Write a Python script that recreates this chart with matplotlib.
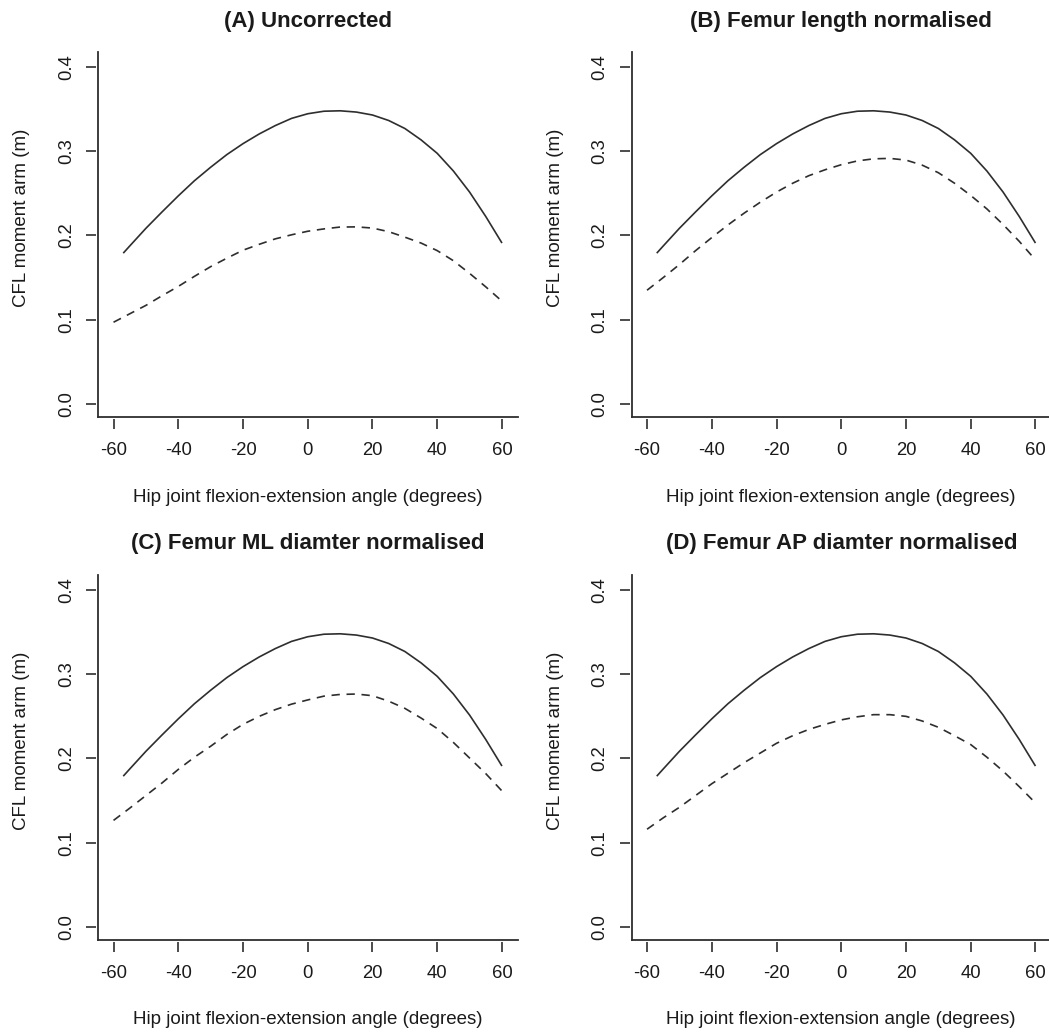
import matplotlib
matplotlib.use("Agg")
import matplotlib.pyplot as plt

plt.rcParams['font.family'] = ['Liberation Sans', 'DejaVu Sans']

# ---- data ----
solid_angle = [-57, -55, -50, -45, -40, -35, -30, -25, -20, -15, -10, -5, 0,
               5, 10, 15, 20, 25, 30, 35, 40, 45, 50, 55, 60]
solid_arm = [0.179, 0.1875, 0.2085, 0.228, 0.247, 0.265, 0.281, 0.296, 0.309,
             0.3205, 0.3305, 0.339, 0.3445, 0.3475, 0.348, 0.3465, 0.343, 0.3365,
             0.327, 0.3135, 0.2975, 0.2765, 0.2515, 0.2225, 0.191]

dashed_angle = [-60, -55, -50, -45, -40, -35, -30, -25, -20, -15, -10, -5, 0,
                5, 10, 15, 20, 25, 30, 35, 40, 45, 50, 55, 60]
dashed_A = [0.097, 0.107, 0.117, 0.1285, 0.1395, 0.1515, 0.163, 0.173, 0.1825,
            0.1895, 0.196, 0.2008, 0.205, 0.2078, 0.210, 0.2102, 0.2088, 0.2045,
            0.198, 0.191, 0.182, 0.170, 0.155, 0.139, 0.122]
dashed_B = [0.135, 0.150, 0.1655, 0.182, 0.1975, 0.2125, 0.2265, 0.2395, 0.2515,
            0.262, 0.271, 0.278, 0.284, 0.2885, 0.291, 0.2915, 0.2895, 0.2835,
            0.2745, 0.262, 0.2475, 0.2315, 0.213, 0.193, 0.171]
dashed_C = [0.1265, 0.141, 0.156, 0.171, 0.187, 0.2015, 0.2145, 0.2285, 0.2405,
            0.250, 0.258, 0.2645, 0.2695, 0.274, 0.276, 0.2765, 0.2745, 0.268,
            0.2595, 0.248, 0.2355, 0.219, 0.2005, 0.182, 0.1614]
dashed_D = [0.116, 0.1295, 0.142, 0.156, 0.170, 0.1825, 0.195, 0.2065, 0.218,
            0.227, 0.2345, 0.2405, 0.2458, 0.2495, 0.252, 0.252, 0.250, 0.2445,
            0.237, 0.227, 0.2165, 0.2015, 0.185, 0.1665, 0.1472]

titles = ["(A) Uncorrected", "(B) Femur length normalised",
          "(C) Femur ML diamter normalised", "(D) Femur AP diamter normalised"]
dashed_series = [dashed_A, dashed_B, dashed_C, dashed_D]

x_ticks = [-60, -40, -20, 0, 20, 40, 60]
y_ticks = [0.0, 0.1, 0.2, 0.3, 0.4]
y_tick_labels = ["0.0", "0.1", "0.2", "0.3", "0.4"]
x_label = "Hip joint flexion-extension angle (degrees)"
y_label = "CFL moment arm (m)"

# ---- layout ----
FW, FH = 1049, 1034
fig = plt.figure(figsize=(FW / 100, FH / 100), dpi=100)
fig.patch.set_facecolor("white")

W, H = 419.5, 365
origins = [(98, 52), (631.5, 52), (98, 575), (631.5, 575)]

line_col = "#2e2e2e"
text_col = "#1a1a1a"
lw = 1.2

for (l, t), title, dashed in zip(origins, titles, dashed_series):
    ax = fig.add_axes([l / FW, (FH - t - H) / FH, W / FW, H / FH])
    ax.plot(solid_angle, solid_arm, color=line_col, lw=lw, solid_capstyle="butt",
            solid_joinstyle="round")
    ax.plot(dashed_angle, dashed, color=line_col, lw=lw, linestyle=(0, (5, 4)))
    ax.set_xlim(-64.8, 64.8)
    ax.set_ylim(-0.0155, 0.4178)
    for s in ("top", "right"):
        ax.spines[s].set_visible(False)
    for s in ("left", "bottom"):
        ax.spines[s].set_linewidth(1.3)
        ax.spines[s].set_color(line_col)
    ax.tick_params(bottom=False, left=False, labelbottom=False, labelleft=False)

    sx = ax.secondary_xaxis(-0.006)
    sx.spines["bottom"].set_visible(False)
    sx.set_xticks(x_ticks)
    sx.set_xticklabels([str(v) for v in x_ticks])
    sx.tick_params(length=7.5, width=1.2, color=line_col, labelsize=13.3,
                   labelcolor=text_col, pad=9)

    sy = ax.secondary_yaxis(-0.004)
    sy.spines["left"].set_visible(False)
    sy.set_yticks(y_ticks)
    sy.set_yticklabels(y_tick_labels, rotation=90, va="center")
    sy.tick_params(length=7.5, width=1.2, color=line_col, labelsize=13.3,
                   labelcolor=text_col, pad=8)

    ax.text(0.5, 1 + 31 / H, title, transform=ax.transAxes,
            ha="center", va="center", fontsize=16, fontweight="bold",
            color=text_col)
    ax.set_xlabel(x_label, fontsize=13.5, color=text_col)
    ax.xaxis.set_label_coords(0.5, -80 / H)
    ax.xaxis.label.set_va("center")
    ax.set_ylabel(y_label, fontsize=13.5, color=text_col)
    ax.yaxis.set_label_coords(-76 / W, 0.545)
    ax.yaxis.label.set_va("center")

fig.savefig("out.png", dpi=100, facecolor="white")
